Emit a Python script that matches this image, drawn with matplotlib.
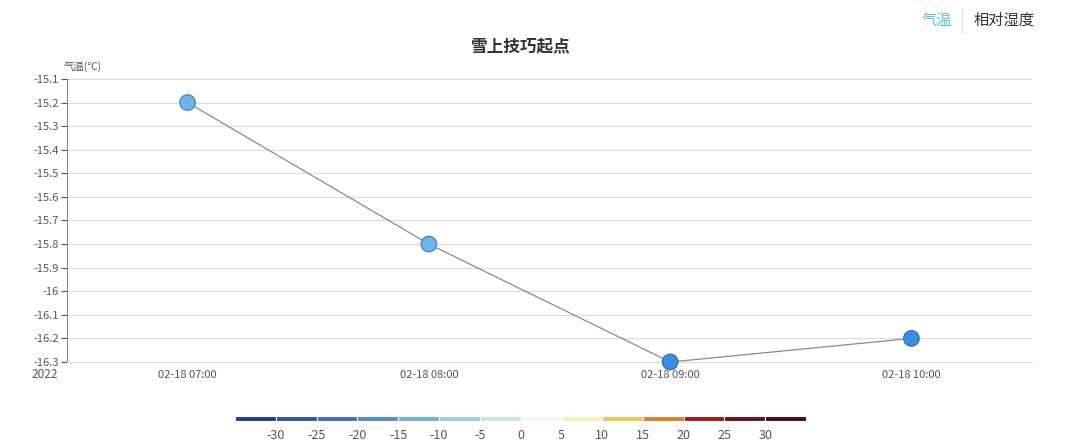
import numpy as np
import pandas as pd
import matplotlib
matplotlib.use('Agg')
import matplotlib.pyplot as plt
import matplotlib.dates as mdates

plt.rcParams['font.family'] = ['Noto Sans CJK SC', 'DejaVu Sans']

times = ['2022-02-18 07:00', '2022-02-18 08:00', '2022-02-18 09:00', '2022-02-18 10:00']
temps = [-15.2, -15.8, -16.3, -16.2]
yticks = [-15.1, -15.2, -15.3, -15.4, -15.5, -15.6, -15.7, -15.8, -15.9, -16.0,
          -16.1, -16.2, -16.3]
scale_bounds = [-35, -30, -25, -20, -15, -10, -5, 0, 5, 10, 15, 20, 25, 30, 35]
scale_labels = [-30, -25, -20, -15, -10, -5, 0, 5, 10, 15, 20, 25, 30]
scale_colors = ['#1f3b8c', '#2a53a9', '#3a70c2', '#4a90d4', '#6cb2df', '#9bcbe2',
                '#c4e4ef', '#f1f9fc', '#fbf0b0', '#e8c65c', '#df7c28', '#a2181f',
                '#6d0f1b', '#4a0a13']
# marker fill / edge per point as seen in the picture
marker_fill = ['#6db5ea', '#6db5ea', '#3b8ee3', '#3b8ee3']
marker_edge = ['#3d84c6', '#3d84c6', '#2a6cbc', '#2a6cbc']

t = pd.to_datetime(times)
fig = plt.figure(figsize=(10.8, 4.48), dpi=100)
ax = fig.add_axes([0.062, 0.192, 0.8936, 0.6317])

ax.plot(t, temps, color='#8a8a8a', lw=0.9, zorder=2)
ax.scatter(t, temps, s=125, c=marker_fill, edgecolors=marker_edge, linewidths=0.9,
           zorder=3, clip_on=False)

ax.set_xlim(pd.Timestamp('2022-02-18 06:30'), pd.Timestamp('2022-02-18 10:30'))
ax.set_ylim(-16.3, -15.1)
ax.set_yticks(yticks)
ax.set_yticklabels([f'{v:g}' for v in yticks])
ax.set_xticks(t)
ax.xaxis.set_major_formatter(mdates.DateFormatter('%m-%d %H:%M'))
ax.tick_params(axis='y', labelsize=8, colors='#555555', length=4, width=0.8, pad=2)
ax.tick_params(axis='x', labelsize=8, colors='#555555', length=0, pad=6)
ax.grid(axis='y', color='#dcdcdc', lw=0.8)
for s in ['top', 'right']:
    ax.spines[s].set_visible(False)
ax.spines['left'].set_color('#888888')
ax.spines['bottom'].set_color('#dcdcdc')
ax.text(-0.003, 1.02, '气温(℃)', transform=ax.transAxes, fontsize=7.5, color='#555555',
        ha='left', va='bottom')
fig.text(45 / 1080, 1 - 374 / 448, '2022', fontsize=8.5, color='#555555', ha='center', va='center')

fig.text(520 / 1080, 1 - 46 / 448, '雪上技巧起点', fontsize=12, fontweight='bold',
         color='#333333', ha='center', va='center')
fig.text(937 / 1080, 1 - 20 / 448, '气温', fontsize=11, color='#5bc4d6', ha='center', va='center')
fig.add_artist(plt.Line2D([962 / 1080, 962 / 1080], [1 - 33 / 448, 1 - 9 / 448], color='#dddddd', lw=0.8))
fig.text(1004 / 1080, 1 - 20 / 448, '相对湿度', fontsize=11, color='#333333', ha='center', va='center')

cax = fig.add_axes([235 / 1080, 1 - 421 / 448, 571 / 1080, 5 / 448])
for i, c in enumerate(scale_colors):
    cax.barh(0, scale_bounds[i + 1] - scale_bounds[i], left=scale_bounds[i], height=1,
             color=c, edgecolor='white', linewidth=0.8)
cax.set_xlim(scale_bounds[0], scale_bounds[-1])
cax.set_ylim(-0.5, 0.5)
cax.set_xticks(scale_labels)
cax.set_xticklabels([str(v) for v in scale_labels])
cax.set_yticks([])
cax.tick_params(axis='x', length=0, labelsize=9, colors='#555555', pad=6)
for s in cax.spines.values():
    s.set_visible(False)

fig.savefig('out.png', dpi=100)
